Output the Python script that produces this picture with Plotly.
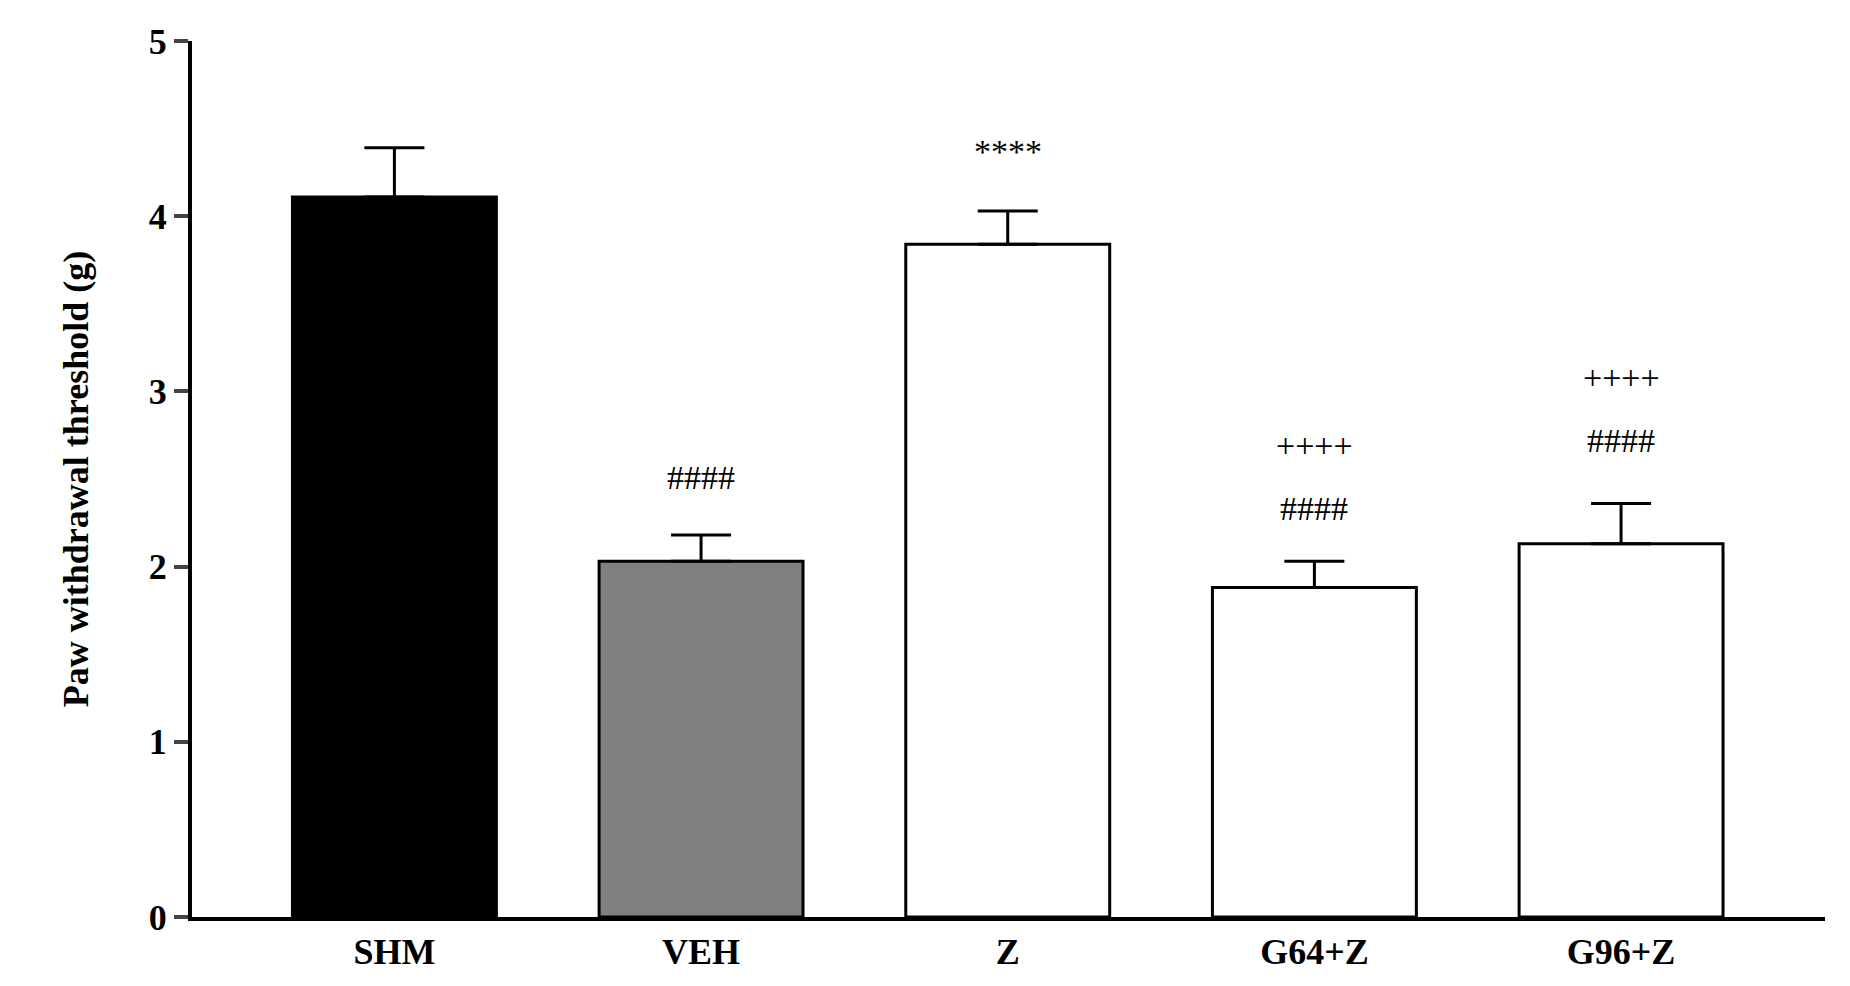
import plotly.graph_objects as go

categories = ["SHM", "VEH", "Z", "G64+Z", "G96+Z"]
means = [4.11, 2.03, 3.84, 1.88, 2.13]
sems = [0.28, 0.15, 0.19, 0.15, 0.23]
colors = ["#000000", "#808080", "#ffffff", "#ffffff", "#ffffff"]
marks = [("****", 2, 4.37), ("####", 1, 2.51), ("####", 3, 2.33), ("++++", 3, 2.69),
         ("####", 4, 2.72), ("++++", 4, 3.08)]

x = list(range(len(categories)))
fig = go.Figure(go.Bar(
    x=x, y=means, width=0.665, marker=dict(color=colors, line=dict(color="black", width=3)),
    error_y=dict(type="data", array=sems, arrayminus=[0]*5, symmetric=False,
                 color="black", thickness=3, width=30)))
for t, i, yy in marks:
    fig.add_annotation(x=i, y=yy, text=t, showarrow=False,
                       font=dict(family="Liberation Serif", size=34, color="black"))
fig.update_layout(
    width=1850, height=986, plot_bgcolor="white", paper_bgcolor="white",
    margin=dict(l=184, r=33, t=33, b=77), showlegend=False,
    font=dict(family="Liberation Serif", color="black"),
    xaxis=dict(range=[-0.66, 4.665], tickvals=x, ticktext=["<b>%s</b>" % c for c in categories],
               tickfont=dict(size=36), showline=True, linewidth=4, linecolor="black",
               ticks="", showgrid=False, zeroline=False),
    yaxis=dict(range=[0, 5], tickvals=[0, 1, 2, 3, 4, 5], ticktext=["<b>%d</b>" % v for v in range(6)],
               tickfont=dict(size=36), showline=True, linewidth=4, linecolor="black",
               ticks="outside", ticklen=14, tickwidth=4, showgrid=False, zeroline=False,
               title=dict(text="<b>Paw withdrawal threshold (g)</b>", font=dict(size=36), standoff=50)),
)
fig.write_html("out.html")
